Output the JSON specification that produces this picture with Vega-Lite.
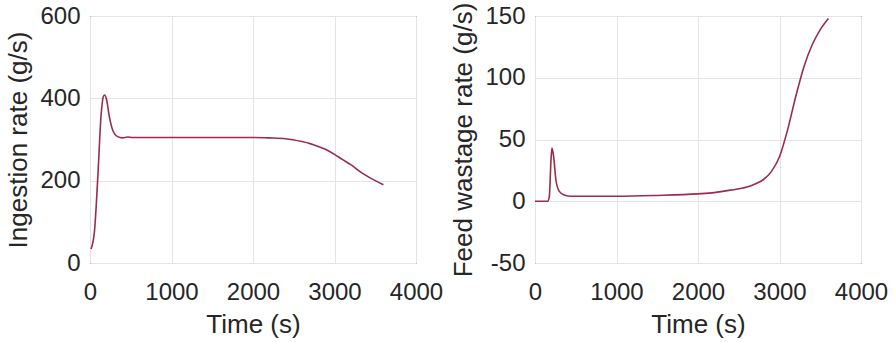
{
  "$schema": "https://vega.github.io/schema/vega-lite/v6.json",
  "padding": {"left": 5, "top": 1, "right": 5, "bottom": 0},
  "background": "white",
  "datasets": {
    "ingest": [
      {"t": 12, "v": 34}, {"t": 53, "v": 73}, {"t": 94, "v": 202}, {"t": 135, "v": 356},
      {"t": 163, "v": 404}, {"t": 180, "v": 408}, {"t": 204, "v": 396}, {"t": 237, "v": 356},
      {"t": 278, "v": 323}, {"t": 339, "v": 307}, {"t": 400, "v": 304}, {"t": 461, "v": 306},
      {"t": 522, "v": 305}, {"t": 1000, "v": 305}, {"t": 1500, "v": 305}, {"t": 2000, "v": 305},
      {"t": 2200, "v": 304}, {"t": 2400, "v": 302}, {"t": 2600, "v": 295}, {"t": 2700, "v": 290},
      {"t": 2800, "v": 283}, {"t": 2900, "v": 275}, {"t": 3000, "v": 264}, {"t": 3100, "v": 251},
      {"t": 3200, "v": 239}, {"t": 3300, "v": 224}, {"t": 3400, "v": 211}, {"t": 3500, "v": 200},
      {"t": 3600, "v": 190}
    ],
    "waste": [
      {"t": 0, "v": 0}, {"t": 155, "v": 0}, {"t": 176, "v": 4}, {"t": 196, "v": 33},
      {"t": 208, "v": 43}, {"t": 229, "v": 36}, {"t": 257, "v": 17}, {"t": 298, "v": 8},
      {"t": 359, "v": 5}, {"t": 441, "v": 4}, {"t": 1000, "v": 4}, {"t": 1500, "v": 4.7},
      {"t": 2000, "v": 6}, {"t": 2200, "v": 7}, {"t": 2400, "v": 9}, {"t": 2600, "v": 11.5},
      {"t": 2700, "v": 14}, {"t": 2800, "v": 17.4}, {"t": 2900, "v": 24}, {"t": 3000, "v": 36},
      {"t": 3100, "v": 58}, {"t": 3200, "v": 85}, {"t": 3300, "v": 109}, {"t": 3400, "v": 126.5},
      {"t": 3500, "v": 139}, {"t": 3600, "v": 148}
    ]
  },
  "config": {
    "font": "Liberation Sans",
    "view": {"stroke": "#262626", "strokeWidth": 1},
    "concat": {"spacing": 119},
    "axis": {
      "labelFont": "Liberation Sans",
      "titleFont": "Liberation Sans",
      "labelFontSize": 24,
      "titleFontSize": 26,
      "titleFontWeight": "normal",
      "labelColor": "#262626",
      "titleColor": "#262626",
      "gridColor": "#e4e4e4",
      "gridWidth": 1,
      "domain": false,
      "ticks": false,
      "labelFlush": false,
      "labelOverlap": false,
      "labelExpr": "'' + datum.value"
    },
    "axisX": {"labelPadding": 17, "titlePadding": 7},
    "axisY": {"labelPadding": 10, "titlePadding": 8}
  },
  "bounds": "flush",
  "hconcat": [
    {
      "width": 326,
      "height": 247,
      "data": {"name": "ingest"},
      "mark": {"type": "line", "color": "#9b2d4b", "strokeWidth": 1.6, "interpolate": "monotone"},
      "encoding": {
        "x": {"field": "t", "type": "quantitative", "title": "Time (s)",
              "scale": {"domain": [0, 4000], "nice": false},
              "axis": {"values": [0, 1000, 2000, 3000, 4000]}},
        "y": {"field": "v", "type": "quantitative", "title": "Ingestion rate (g/s)",
              "scale": {"domain": [0, 600], "nice": false},
              "axis": {"values": [0, 200, 400, 600]}}
      }
    },
    {
      "width": 326,
      "height": 247,
      "data": {"name": "waste"},
      "mark": {"type": "line", "color": "#9b2d4b", "strokeWidth": 1.6, "interpolate": "monotone"},
      "encoding": {
        "x": {"field": "t", "type": "quantitative", "title": "Time (s)",
              "scale": {"domain": [0, 4000], "nice": false},
              "axis": {"values": [0, 1000, 2000, 3000, 4000]}},
        "y": {"field": "v", "type": "quantitative", "title": "Feed wastage rate (g/s)",
              "scale": {"domain": [-50, 150], "nice": false},
              "axis": {"values": [-50, 0, 50, 100, 150]}}
      }
    }
  ]
}
